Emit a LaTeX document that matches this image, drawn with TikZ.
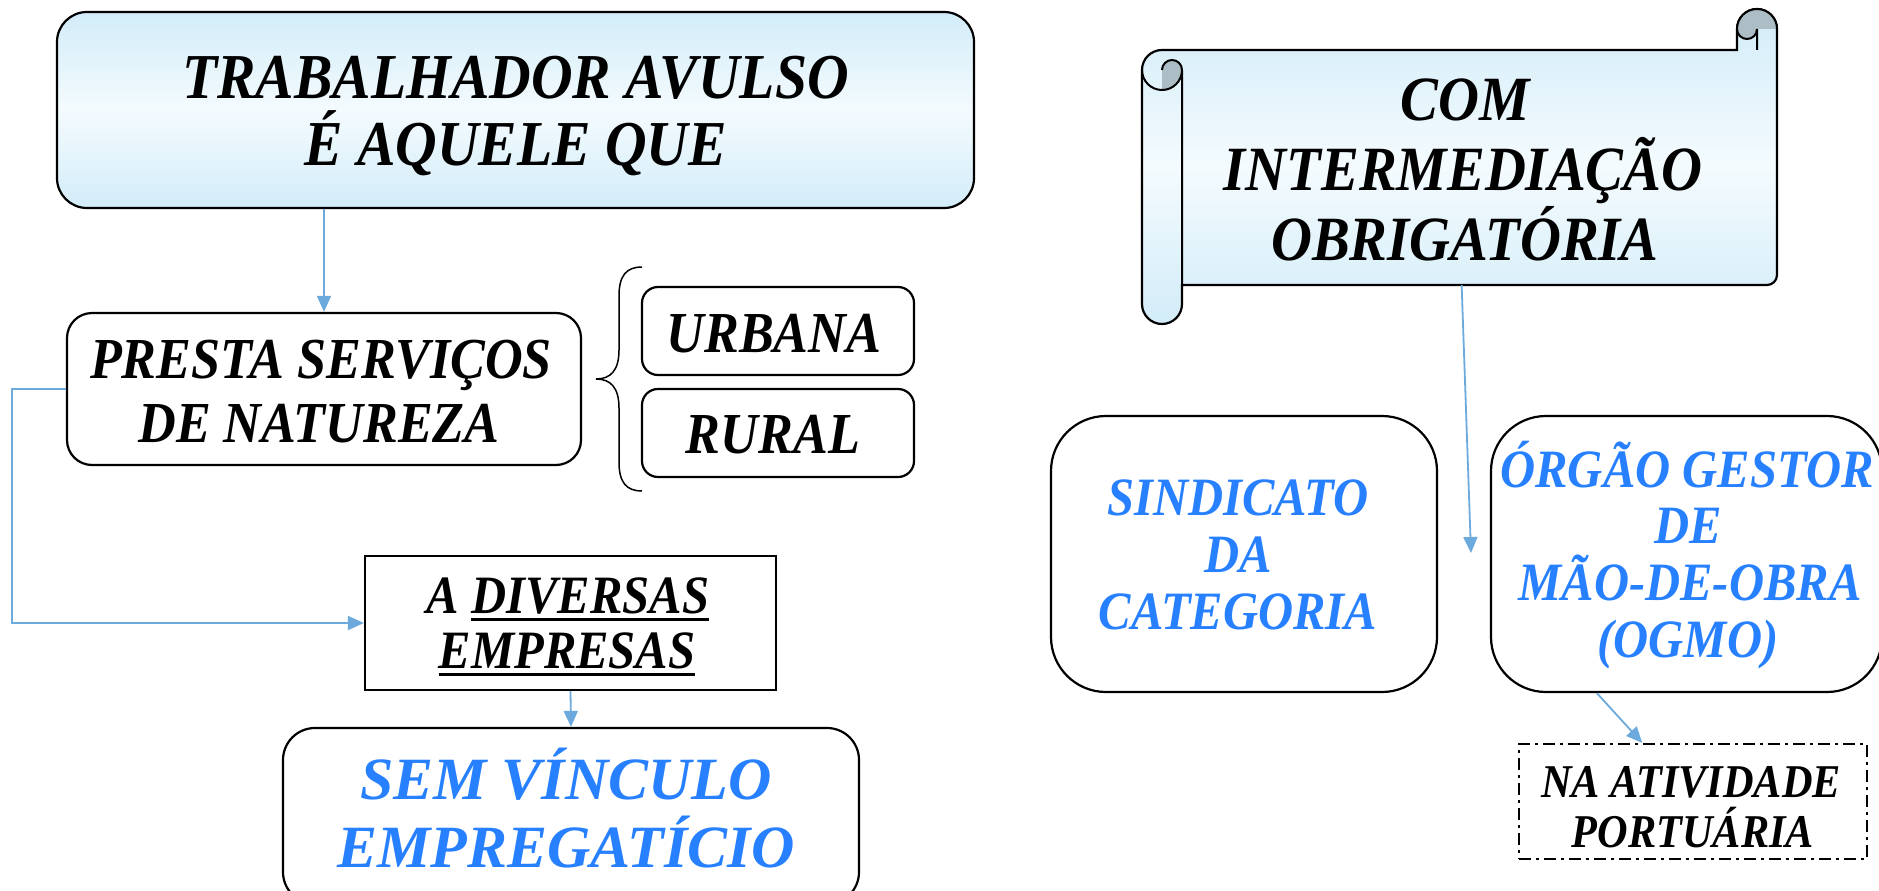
\documentclass[tikz,border=0pt]{standalone}
\usepackage{fontspec}
\setmainfont{Liberation Serif}
\newfontfamily\cfam{Liberation Serif}[FakeStretch=0.9]
\usetikzlibrary{arrows.meta,calc}
\definecolor{connc}{RGB}{108,170,221}
\definecolor{txtblue}{RGB}{38,128,255}
\definecolor{fillblue}{RGB}{210,236,248}
\definecolor{fillmid}{RGB}{244,251,254}
\definecolor{curlc}{RGB}{172,189,198}
\newcommand\fs[1]{\fontsize{#1}{#1}\selectfont\bfseries\itshape}
\newcommand\fc[1]{\cfam\fontsize{#1}{#1}\selectfont\bfseries\itshape}
\newcommand\ulw[1]{\setbox0\hbox{#1}\rlap{\rule[-8pt]{\wd0}{3pt}}\box0}
\begin{document}
\begin{tikzpicture}[x=1pt,y=-1pt,
  box/.style={draw=black, line width=2.2pt, inner sep=0pt},
  rbox/.style={box, rounded corners=#1},
  txt/.style={anchor=base, inner sep=0pt},
  link/.style={draw=connc, line width=1.8pt, -{Triangle[length=16pt,width=14pt]}},
  grad/.style={top color=fillblue, bottom color=fillblue, middle color=fillmid},
  thin/.style={line width=2pt}]
\useasboundingbox (0,0) rectangle (1879,891);
\clip (0,0) rectangle (1879,891);

% ---------- left column ----------
\node[rbox=30, grad, minimum width=917pt, minimum height=196pt] (top) at (515.5,110) {};
\node[txt, font=\fc{64}] (t1a) at (515.5,98) {TRABALHADOR AVULSO};
\node[txt, font=\fc{64}] (t1b) at (515.5,165) {É AQUELE QUE};

\node[rbox=25, minimum width=514pt, minimum height=152pt] (presta) at (324,389) {};
\node[txt, font=\fc{58}] (t2a) at (321,378) {PRESTA SERVIÇOS};
\node[txt, font=\fc{58}] (t2b) at (319,442) {DE NATUREZA};

\node[rbox=16, minimum width=272pt, minimum height=88pt] (urbana) at (778,331) {};
\node[txt, font=\fc{58}] (t3) at (774,352) {URBANA};
\node[rbox=16, minimum width=272pt, minimum height=88pt] (rural) at (778,433) {};
\node[txt, font=\fc{58}] (t4) at (773,453) {RURAL};

\draw[line width=1.5pt] (642,267) .. controls (626,267) and (619,276) .. (619,296)
  -- (619,350) .. controls (619,370) and (611,379) .. (596,379)
  .. controls (611,379) and (619,388) .. (619,408)
  -- (619,462) .. controls (619,482) and (626,491) .. (642,491);

\node[box, minimum width=411pt, minimum height=134pt] (diversas) at (570.5,623) {};
\node[txt, font=\fc{54}] (t5a) at (568,613) {A \ulw{DIVERSAS}};
\node[txt, font=\fc{54}] (t5b) at (567,668) {\ulw{EMPRESAS}};

\node[rbox=32, minimum width=576pt, minimum height=176pt] (sem) at (571,816) {};
\node[txt, font=\fs{60}, text=txtblue] (t6a) at (566,799) {SEM VÍNCULO};
\node[txt, font=\fs{60}, text=txtblue] (t6b) at (566,867) {EMPREGATÍCIO};

\draw[link] (presta.north |- top.south) -- (presta.north);
\draw[link] (presta.west) -- ++(-54,0) |- (diversas.west);
\draw[link] (diversas.south) -- (sem.north);

% ---------- scroll ----------
\path[grad, draw=black, line width=2.2pt]
  (1142,70) .. controls (1142,58.95) and (1150.95,50) .. (1162,50)
  -- (1737,50) -- (1737,29)
  .. controls (1737,17.95) and (1745.95,9) .. (1757,9)
  .. controls (1768.05,9) and (1777,17.95) .. (1777,29)
  -- (1777,275) .. controls (1777,280.52) and (1772.52,285) .. (1767,285)
  -- (1182,285) -- (1182,304)
  .. controls (1182,315.05) and (1173.05,324) .. (1162,324)
  .. controls (1150.95,324) and (1142,315.05) .. (1142,304) -- cycle;
% right curl
\fill[curlc] (1737,29) .. controls (1737,17.95) and (1745.95,9) .. (1757,9)
  .. controls (1768.05,9) and (1777,17.95) .. (1777,29) -- (1757,29)
  .. controls (1757,34.52) and (1752.52,39) .. (1747,39)
  .. controls (1741.48,39) and (1737,34.52) .. (1737,29) -- cycle;
\draw[thin] (1737,29) .. controls (1737,17.95) and (1745.95,9) .. (1757,9)
  .. controls (1768.05,9) and (1777,17.95) .. (1777,29);
\draw[thin] (1757,50) -- (1757,29)
  .. controls (1757,34.52) and (1752.52,39) .. (1747,39)
  .. controls (1741.48,39) and (1737,34.52) .. (1737,29);
% left curl
\fill[curlc] (1162,70) .. controls (1162,64.48) and (1166.48,60) .. (1172,60)
  .. controls (1177.52,60) and (1182,64.48) .. (1182,70)
  .. controls (1182,81.05) and (1173.05,90) .. (1162,90) -- cycle;
\draw[thin] (1162,70) .. controls (1162,64.48) and (1166.48,60) .. (1172,60)
  .. controls (1177.52,60) and (1182,64.48) .. (1182,70);
\draw[thin] (1142,70) .. controls (1142,81.05) and (1150.95,90) .. (1162,90)
  .. controls (1173.05,90) and (1182,81.05) .. (1182,70) -- (1182,285);

\node[inner sep=0pt, minimum width=595pt, minimum height=235pt] (scroll) at (1479.5,167.5) {};
\node[txt, font=\fc{63}] (s1) at (1465,120) {COM};
\node[txt, font=\fc{63}] (s2) at (1463,190) {INTERMEDIAÇÃO};
\node[txt, font=\fc{63}] (s3) at (1465,260) {OBRIGATÓRIA};

% ---------- right boxes ----------
\node[rbox=55, minimum width=386pt, minimum height=276pt] (sind) at (1244,554) {};
\node[txt, font=\fc{54}, text=txtblue] (u1) at (1238,515) {SINDICATO};
\node[txt, font=\fc{54}, text=txtblue] (u2) at (1238,572) {DA};
\node[txt, font=\fc{54}, text=txtblue] (u3) at (1238,629) {CATEGORIA};

\node[rbox=55, minimum width=391pt, minimum height=276pt] (orgao) at (1686.5,554) {};
\node[txt, font=\fc{54}, text=txtblue] (v1) at (1687,487) {ÓRGÃO GESTOR};
\node[txt, font=\fc{54}, text=txtblue] (v2) at (1688,543) {DE};
\node[txt, font=\fc{54}, text=txtblue] (v3) at (1690,600) {MÃO-DE-OBRA};
\node[txt, font=\fc{54}, text=txtblue] (v4) at (1688,657) {(OGMO)};

\node[box, dash pattern=on 12pt off 5pt on 3pt off 5pt, minimum width=348pt, minimum height=115pt] (na) at (1693,801.5) {};
\node[txt, font=\fc{47}] (w1) at (1691,797) {NA ATIVIDADE};
\node[txt, font=\fc{47}] (w2) at (1693,847) {PORTUÁRIA};

\coordinate (send) at (1471,553);
\draw[link] ($(scroll.south west)!0.47!(scroll.south east)$) -- (send);
\draw[link] ($(orgao.south west)!0.272!(orgao.south east)$) -- ($(na.north west)!0.355!(na.north east)$);
\end{tikzpicture}
\end{document}
